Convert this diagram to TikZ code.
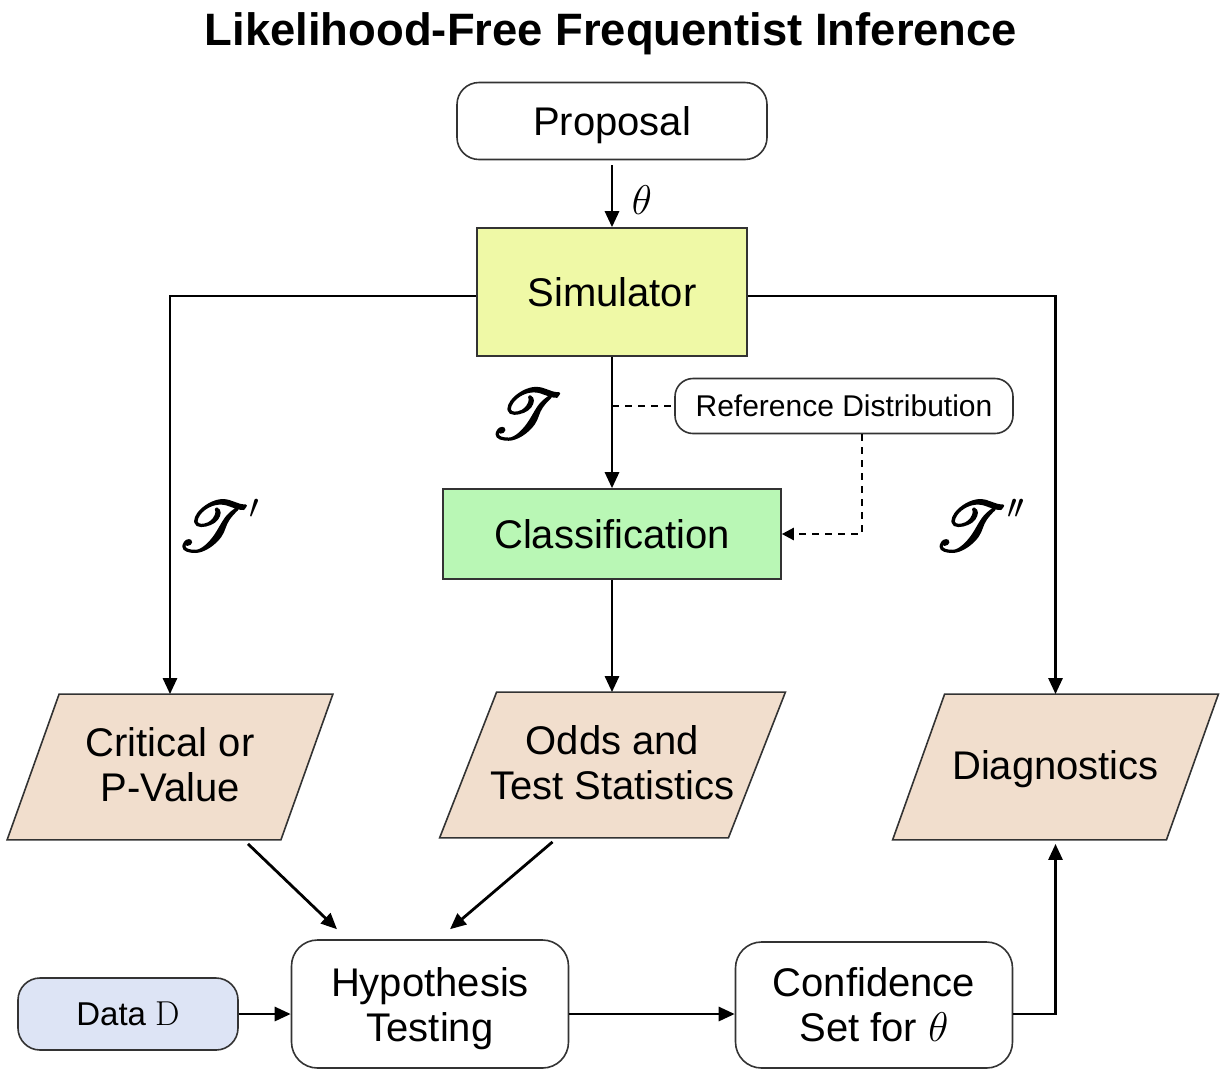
\documentclass[tikz,border=0pt]{standalone}
\usepackage[no-math]{fontspec}
\setmainfont{Liberation Sans}
\usepackage{mathrsfs}
\usepackage{graphicx}
\usetikzlibrary{arrows.meta,backgrounds}
\definecolor{simcol}{HTML}{EFF9A6}
\definecolor{clscol}{HTML}{B9F7B5}
\definecolor{paracol}{HTML}{F1DECD}
\definecolor{datacol}{HTML}{DDE4F5}
\newcommand{\boldscr}[1]{\special{pdf:literal direct 2 Tr 0.6 w}#1\special{pdf:literal direct 0 Tr}}
\newcommand{\bigT}{\scalebox{1.4}{\fontsize{24.88}{30}\selectfont\boldscr{$\mathscr{T}$}}}
\newcommand{\smallprime}{\raisebox{16pt}{\fontsize{17}{20}\selectfont$\prime$}}
\begin{document}
\begin{tikzpicture}[x=0.5pt,y=-0.5pt,
  box/.style={draw=black!80, line width=0.8pt, align=center, inner sep=0pt,
    font=\fontsize{20}{22.5}\selectfont},
  rbox/.style={box, rounded corners=11pt},
  pnode/.style={align=center, inner sep=0pt, minimum width=162.5pt, minimum height=72.5pt,
    font=\fontsize{20}{22.5}\selectfont},
  para/.style={fill=paracol, draw=black!80, line width=0.8pt},
  arr/.style={line width=1.4pt, -{Triangle[length=8pt,width=7pt]}},
  dashline/.style={line width=1.2pt, dash pattern=on 3.5pt off 3pt},
  lbl/.style={inner sep=0pt},
]
\useasboundingbox (0,0) rectangle (1226,1078);
% title
\node[lbl, anchor=base, font=\fontsize{22.7}{27}\selectfont\bfseries] (title) at (611,45) {Likelihood-Free Frequentist Inference};
% nodes
\node[rbox, minimum width=155pt, minimum height=38.5pt, text depth=0pt] (prop) at (612,121) {Proposal};
\node[box, fill=simcol, minimum width=135pt, minimum height=64pt] (sim) at (612,292) {Simulator};
\node[rbox, rounded corners=9pt, minimum width=169pt, minimum height=27.5pt, font=\fontsize{15}{18}\selectfont] (ref) at (844,406) {Reference Distribution};
\node[box, fill=clscol, minimum width=169pt, minimum height=45pt] (cls) at (612,534) {Classification};
\node[pnode] (crit) at (170,765) {Critical or\\P-Value};
\node[pnode, minimum width=172.5pt] (odds) at (612.5,763) {Odds and\\Test Statistics};
\node[pnode, text depth=0pt] (diag) at (1055.5,765) {Diagnostics};
\node[rbox, fill=datacol, minimum width=110pt, minimum height=36pt, font=\fontsize{16.5}{20}\selectfont] (data) at (128,1014) {Data $\mathrm{D}$};
\node[rbox, rounded corners=13pt, minimum width=138.5pt, minimum height=64pt, text depth=0pt] (hyp) at (430,1004) {Hypothesis\\Testing};
\node[rbox, rounded corners=13pt, minimum width=138.5pt, minimum height=63pt] (conf) at (874,1005) {Confidence\\Set for $\theta$};
% parallelograms
\begin{scope}[on background layer]
\foreach \n/\s in {crit/26pt,odds/28.5pt,diag/26pt}{
  \draw[para] ([yshift=-1pt]\n.south west) -- ([xshift=\s,yshift=-1pt]\n.north west) -- ([yshift=-1pt]\n.north east) -- ([xshift=-\s,yshift=-1pt]\n.south east) -- cycle;
}
\end{scope}
% labels
\node[lbl, font=\fontsize{20}{24}\selectfont] (th) at (642,200) {$\theta$};
\node[lbl] (t0) at (526,414) {\bigT};
\node[lbl] (t1) at (218,525) {\bigT\kern0.5pt\smallprime};
\node[lbl] (t2) at (979,525) {\bigT\kern0.5pt\smallprime\kern-1pt\smallprime};
% connectors
\draw[arr] ([yshift=-2.5pt]prop.south) -- (sim.north);
\draw[arr] ([yshift=-2pt]sim.west) -| ([yshift=-1pt]crit.north);
\draw[arr] ([yshift=-2pt]sim.east) -| ([yshift=-1pt]diag.north);
\draw[arr] (sim.south) -- (cls.north);
\draw[arr] (cls.south) -- ([yshift=-1pt]cls.south |- odds.north);
\draw[dashline] (sim.south |- ref.west) -- (ref.west);
\draw[dashline, -{Triangle[length=6pt,width=6pt]}] ([xshift=9pt]ref.south) |- (cls.east);
\draw[arr] ([xshift=39pt,yshift=-3pt]crit.south) -- ([xshift=-46.5pt,yshift=5pt]hyp.north);
\draw[arr] ([xshift=-30pt,yshift=-3pt]odds.south) -- ([xshift=10pt,yshift=5pt]hyp.north);
\draw[arr] (data.east) -- (data.east -| hyp.west);
\draw[arr] (data.east -| hyp.east) -- (data.east -| conf.west);
\draw[arr] (data.east -| conf.east) -| ([yshift=-3pt]diag.south);
\end{tikzpicture}
\end{document}
